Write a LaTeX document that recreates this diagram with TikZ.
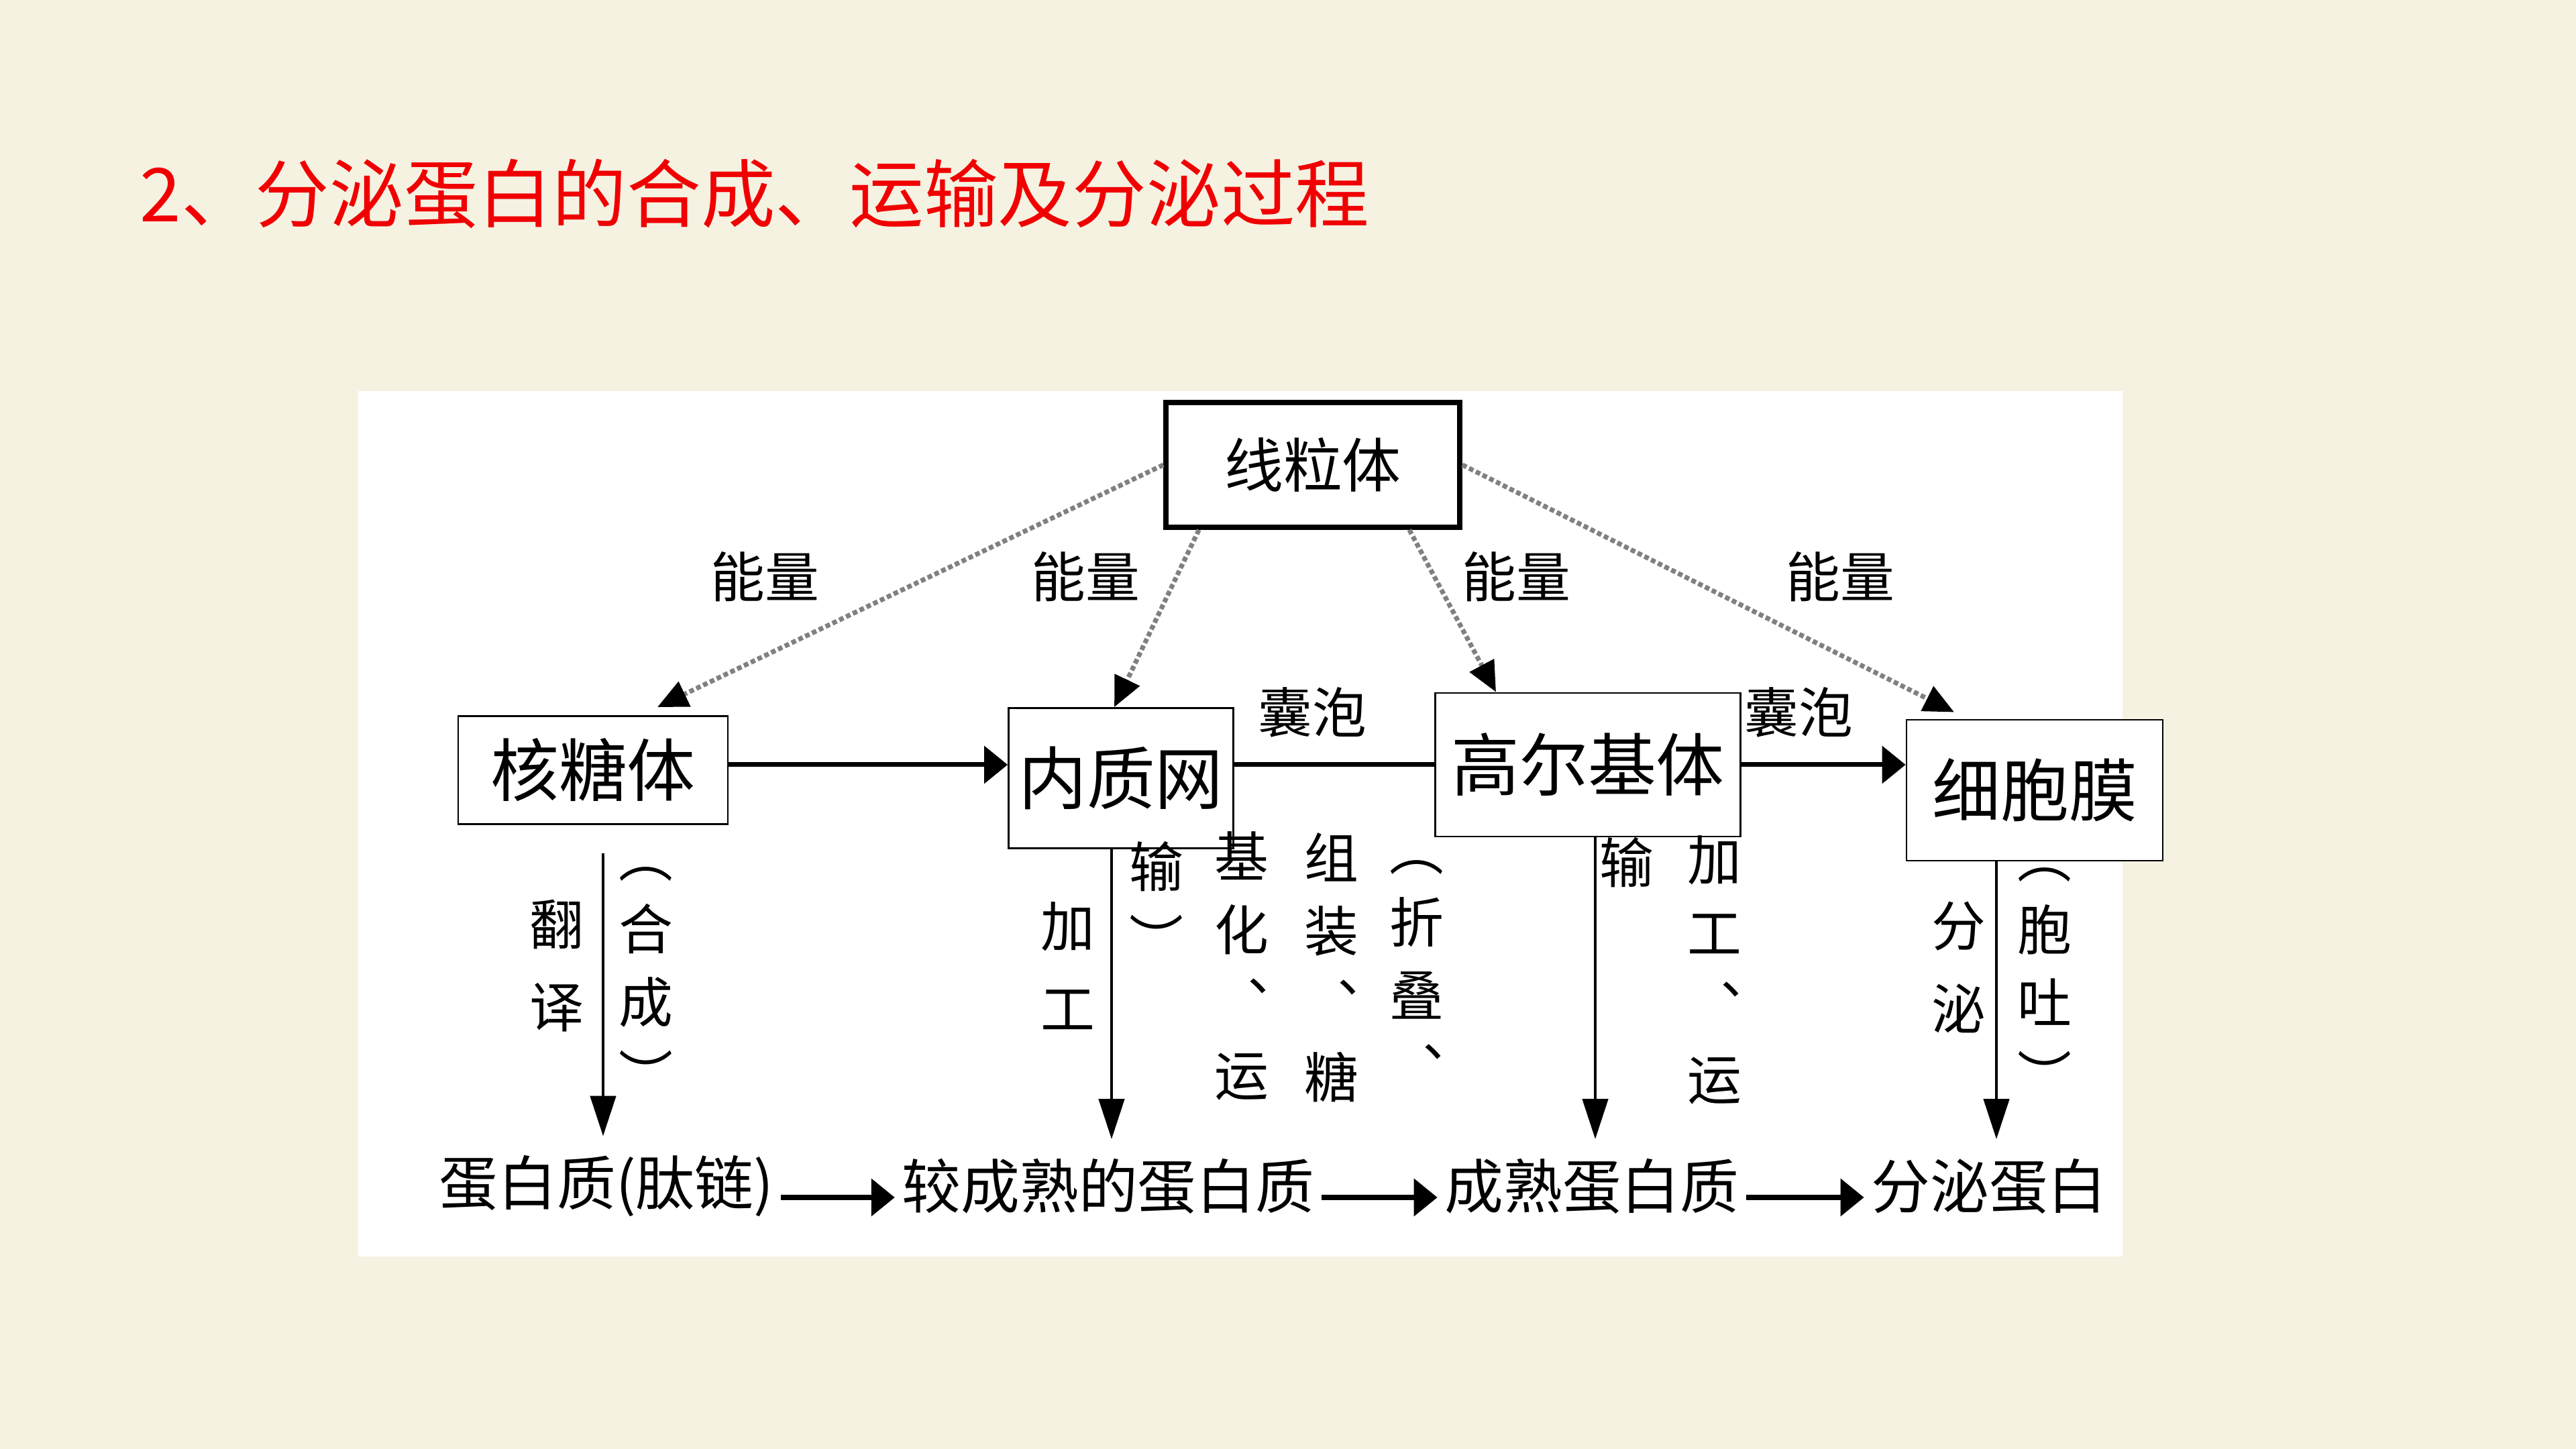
\documentclass[tikz,border=0pt]{standalone}
\usepackage{fontspec}
\setmainfont{Noto Sans CJK SC}
\usetikzlibrary{arrows.meta}
\definecolor{paper}{HTML}{F5F2E2}
\definecolor{titlered}{HTML}{F00000}

\begin{document}
\begin{tikzpicture}[
    box/.style={draw, fill=white, line width=0.8pt, inner sep=0pt, font=\fontsize{29}{32}\selectfont},
    lab/.style={inner sep=0pt, font=\fontsize{23}{26}\selectfont},
    vlab/.style={inner sep=0pt, align=center, font=\fontsize{23}{31}\selectfont},
    prod/.style={inner xsep=1mm, inner ysep=2.8mm, font=\fontsize{25}{28}\selectfont},
    flow/.style={-{Triangle[length=3.5mm,width=5.5mm]}, line width=2pt},
    down/.style={-{Triangle[length=6mm,width=3.8mm]}, line width=1.3pt},
    energy/.style={-{Triangle[length=4.5mm,width=4mm,color=black]}, dash pattern=on 2pt off 1.2pt, line width=2pt, black!50}
  ]
    \fill[paper] (0,0) rectangle (38.4,21.6);
    \useasboundingbox (0,0) rectangle (38.4,21.6);
    \fill[white] (5.34,2.87) rectangle (31.64,15.77);

    \node[anchor=west, inner sep=0pt, text=titlered, font=\fontsize{31.5}{36}\selectfont] (title) at (2.08,18.71) {2、分泌蛋白的合成、运输及分泌过程};

    % organelles
    \node[box, line width=2.2pt, minimum width=4.38cm, minimum height=1.86cm, font=\fontsize{25}{28}\selectfont] (mito) at (19.57,14.67) {线粒体};
    \node[box, minimum width=4.02cm, minimum height=1.61cm] (ribo) at (8.84,10.12) {核糖体};
    \node[box, minimum width=3.35cm, minimum height=2.09cm] (er) at (16.71,10.00) {内质网};
    \node[box, minimum width=4.55cm, minimum height=2.14cm] (golgi) at (23.67,10.20) {高尔基体};
    \node[box, minimum width=3.82cm, minimum height=2.10cm] (mem) at (30.33,9.82) {细胞膜};

    \node[lab] (e1) at (11.40,13.00) {能量};
    \node[lab] (e2) at (16.18,13.00) {能量};
    \node[lab] (e3) at (22.60,13.00) {能量};
    \node[lab] (e4) at (27.43,13.00) {能量};
    \node[lab] (v1) at (19.56,10.98) {囊泡};
    \node[lab] (v2) at (26.81,10.98) {囊泡};

    % products
    \node[prod] (prot) at (9.04,3.92) {蛋白质(肽链)};
    \node[prod] (pre) at (16.52,3.92) {较成熟的蛋白质};
    \node[prod] (mat) at (23.73,3.92) {成熟蛋白质};
    \node[prod] (sec) at (29.65,3.92) {分泌蛋白};

    % vertical notes
    \node[vlab, font=\fontsize{23}{35}\selectfont] (trans) at (8.30,7.20) {翻\\译};
    \node[vlab] (synth) at (9.63,6.97) {︵\\合\\成\\︶};
    \node[vlab, font=\fontsize{23}{35}\selectfont] (erproc) at (15.92,7.20) {加\\工};
    \node[vlab] (era) at (17.24,8.17) {输\\︶};
    \node[vlab] (erb) at (18.51,7.20) {基\\化\\︑\\运};
    \node[vlab] (erc) at (19.85,7.18) {组\\装\\︑\\糖};
    \node[vlab] (erd) at (21.12,7.07) {︵\\折\\叠\\︑};
    \node[vlab] (ga) at (24.25,8.74) {输};
    \node[vlab] (gb) at (25.56,7.14) {加\\工\\︑\\运};
    \node[vlab, font=\fontsize{23}{35}\selectfont] (secr) at (29.20,7.18) {分\\泌};
    \node[vlab] (exo) at (30.48,6.96) {︵\\胞\\吐\\︶};

    \draw[flow] (ribo.east |- golgi.west) -- (er.west |- golgi.west);
    \draw[line width=2pt] (er.east |- golgi.west) -- (golgi.west);
    \draw[flow] (golgi.east) -- (mem.west |- golgi.east);

    \draw[energy] (mito.west) -- ([shift={(0.96,0.12)}]ribo.north);
    \draw[energy] ([xshift=0.53cm]mito.south west) -- ([xshift=-0.1cm]er.north);
    \draw[energy] ([xshift=-0.79cm]mito.south east) -- ([xshift=-1.37cm]golgi.north);
    \draw[energy] (mito.east) -- ([shift={(-1.2,0.1)}]mem.north);

    \draw[down] ([shift={(0.15,-0.42)}]ribo.south) -- ([xshift=0.15cm]ribo.south |- prot.north);
    \draw[down] ([xshift=-0.14cm]er.south) -- ([xshift=-0.14cm]er.south |- pre.north);
    \draw[down] ([xshift=0.11cm]golgi.south) -- ([xshift=0.11cm]golgi.south |- mat.north);
    \draw[down] ([xshift=-0.57cm]mem.south) -- ([xshift=-0.57cm]mem.south |- sec.north);

    \draw[flow] ([yshift=-0.17cm]prot.east) -- ([yshift=-0.17cm]pre.west);
    \draw[flow] ([yshift=-0.17cm]pre.east) -- ([yshift=-0.17cm]mat.west);
    \draw[flow] ([yshift=-0.17cm]mat.east) -- ([yshift=-0.17cm]sec.west);
  \end{tikzpicture}
\end{document}
